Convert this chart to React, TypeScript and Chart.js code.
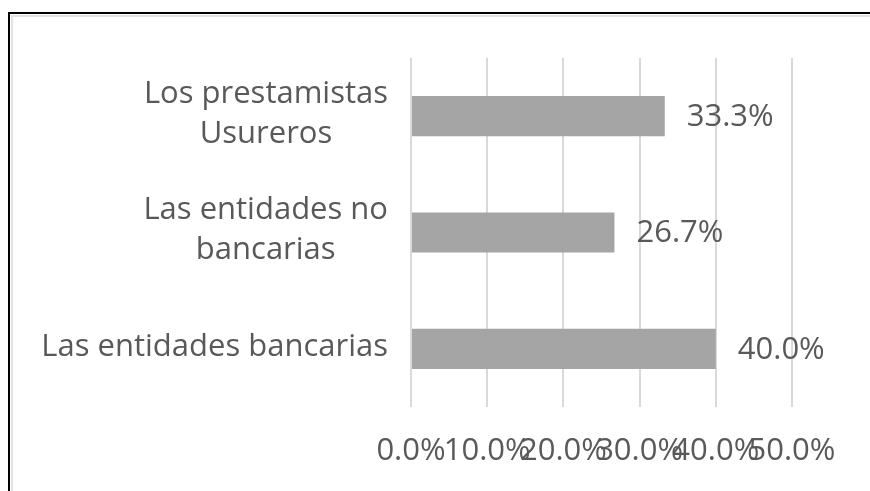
import React, { useEffect, useRef } from 'react';
import { Chart, registerables } from 'chart.js';

Chart.register(...registerables);

// Categories listed from top to bottom of the chart
const categories: string[][] = [
  ['Los prestamistas', 'Usureros'],
  ['Las entidades no', 'bancarias'],
  ['Las entidades bancarias'],
];
const values: number[] = [33.3, 26.7, 40.0];
const xMin = 0;
const xMax = 50;
const xStep = 10;

const FONT = '"Open Sans"';
const FONT_SIZE = 31;
const TEXT_COLOR = '#595959';
const BAR_COLOR = '#a5a5a5';
const GRID_COLOR = '#d9d9d9';

const pct = (v: number) => v.toFixed(1) + '%';

const yLabelPlugin = {
  id: 'yLabelsCentered',
  afterDraw(chart: any) {
    const ctx = chart.ctx as CanvasRenderingContext2D;
    const yScale = chart.scales.y;
    ctx.save();
    ctx.font = `${FONT_SIZE}px ${FONT}`;
    ctx.fillStyle = TEXT_COLOR;
    ctx.textAlign = 'center';
    ctx.textBaseline = 'middle';
    const right = chart.chartArea.left - 23;
    const lh = 40;
    yScale.ticks.forEach((_t: any, i: number) => {
      const lines = categories[i];
      const w = Math.max(...lines.map((l) => ctx.measureText(l).width));
      const cx = right - w / 2;
      const py = yScale.getPixelForTick(i);
      const start = py - ((lines.length - 1) * lh) / 2;
      lines.forEach((l, j) => ctx.fillText(l, cx, start + j * lh - 2));
    });
    ctx.restore();
  },
};

const dataLabelPlugin = {
  id: 'barValueLabels',
  afterDatasetsDraw(chart: any) {
    const ctx = chart.ctx as CanvasRenderingContext2D;
    const meta = chart.getDatasetMeta(0);
    ctx.save();
    ctx.font = `${FONT_SIZE}px ${FONT}`;
    ctx.fillStyle = TEXT_COLOR;
    ctx.textAlign = 'left';
    ctx.textBaseline = 'middle';
    meta.data.forEach((bar: any, i: number) => {
      ctx.fillText(pct(values[i]), bar.x + 22, bar.y + 1);
    });
    ctx.restore();
  },
};

export default function App() {
  const ref = useRef<HTMLCanvasElement | null>(null);

  useEffect(() => {
    if (!ref.current) return;
    const chart = new Chart(ref.current, {
      type: 'bar',
      data: {
        labels: categories,
        datasets: [
          {
            data: values,
            backgroundColor: BAR_COLOR,
            borderWidth: 0,
            barPercentage: 0.69,
            categoryPercentage: 0.5,
          },
        ],
      },
      options: {
        indexAxis: 'y',
        animation: false,
        responsive: false,
        maintainAspectRatio: false,
        layout: { padding: { top: 58, right: 78, left: 0, bottom: 0 } },
        plugins: {
          legend: { display: false },
          tooltip: { enabled: false },
          title: { display: false },
        },
        scales: {
          x: {
            type: 'linear',
            position: 'bottom',
            min: xMin,
            max: xMax,
            grid: { color: GRID_COLOR, lineWidth: 2, drawTicks: false },
            border: { display: false },
            ticks: {
              stepSize: xStep,
              autoSkip: false,
              maxRotation: 0,
              minRotation: 0,
              padding: 26,
              color: TEXT_COLOR,
              font: { family: FONT, size: FONT_SIZE },
              callback: (v: any) => pct(Number(v)),
            },
            afterFit: (s: any) => {
              s.height = 84;
            },
          },
          y: {
            type: 'category',
            grid: { display: false },
            border: { display: false },
            ticks: { display: false },
            afterFit: (s: any) => {
              s.width = 411;
            },
          },
        },
      },
      plugins: [yLabelPlugin, dataLabelPlugin],
    });
    return () => chart.destroy();
  }, []);

  return (
    <div style={{ position: 'absolute', left: 0, top: 0, width: 870, height: 491, background: '#fff', overflow: 'hidden' }}>
      <div style={{ position: 'absolute', left: 8, top: 12, width: 900, height: 600, borderTop: '2px solid #000', borderLeft: '2px solid #000' }} />
      <div style={{ position: 'absolute', left: 11, top: 15, width: 900, height: 600, borderTop: '2px solid #e3e3e3', borderLeft: '2px solid #e3e3e3' }} />
      <canvas ref={ref} width={870} height={491} style={{ position: 'absolute', left: 0, top: 0, display: 'block' }} />
    </div>
  );
}
